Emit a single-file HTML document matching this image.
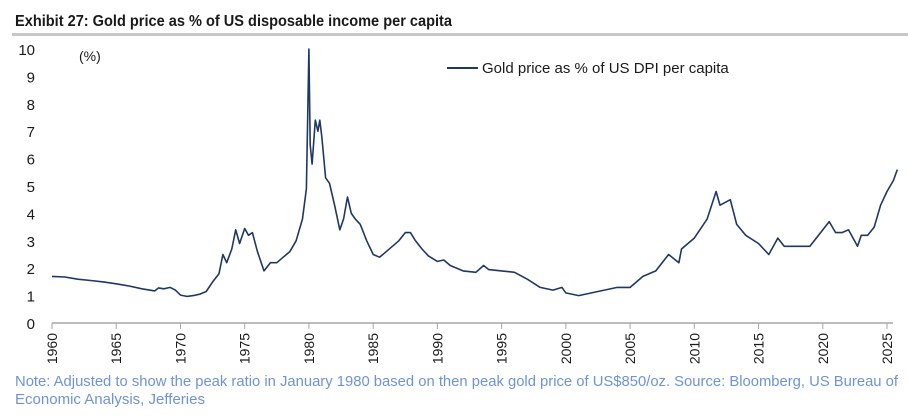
<!DOCTYPE html>
<html><head><meta charset="utf-8"><style>
body{margin:0;background:#fff;width:908px;height:412px;overflow:hidden;font-family:"Liberation Sans",sans-serif}
svg text{font-family:"Liberation Sans",sans-serif}
</style></head><body>
<svg id="chart" width="908" height="412" xmlns="http://www.w3.org/2000/svg">
<text x="15" y="26" font-size="16" font-weight="bold" fill="#1a1a1a" textLength="437" lengthAdjust="spacingAndGlyphs">Exhibit 27: Gold price as % of US disposable income per capita</text>
<rect x="12" y="33" width="896" height="3" fill="#c8c8c8"/>
<text x="79" y="61" font-size="14" fill="#1a1a1a">(%)</text>
<line x1="447" y1="68" x2="478" y2="68" stroke="#1f3864" stroke-width="2"/>
<text x="482" y="73" font-size="15" fill="#1a1a1a">Gold price as % of US DPI per capita</text>
<g id="yt"></g><g id="xt"></g>
<line x1="52" y1="323" x2="893" y2="323" stroke="#a6a6a6" stroke-width="1.5"/>
<path id="series" fill="none" stroke="#1f3864" stroke-width="1.6" stroke-linejoin="round"/>
<text font-size="15" fill="#6f93d6" style="font-family:'Liberation Sans Narrow','Liberation Sans',sans-serif"><tspan x="15" y="386" textLength="883" lengthAdjust="spacingAndGlyphs">Note: Adjusted to show the peak ratio in January 1980 based on then peak gold price of US$850/oz. Source: Bloomberg, US Bureau of</tspan><tspan x="15" y="404" textLength="190" lengthAdjust="spacingAndGlyphs">Economic Analysis, Jefferies</tspan></text>
</svg>
<script>
const years=[1960,1961,1962,1963,1964,1965,1966,1967,1968,1968.3,1968.7,1969.2,1969.6,1970,1970.5,1971,1971.5,1972,1972.5,1973,1973.3,1973.6,1974,1974.3,1974.6,1975,1975.3,1975.6,1976,1976.5,1977,1977.5,1978,1978.5,1979,1979.5,1979.8,1980,1980.1,1980.25,1980.5,1980.7,1980.85,1981,1981.3,1981.6,1982,1982.4,1982.7,1983,1983.3,1983.6,1984,1984.5,1985,1985.5,1986,1986.5,1987,1987.5,1987.9,1988.3,1988.8,1989.3,1990,1990.5,1991,1992,1993,1993.6,1994,1995,1996,1997,1998,1999,1999.7,2000,2001,2002,2003,2004,2005,2006,2007,2008,2008.8,2009,2010,2011,2011.7,2012,2012.8,2013.3,2014,2015,2015.8,2016.5,2017,2018,2019,2019.5,2020.5,2021,2021.5,2022,2022.7,2023,2023.5,2024,2024.5,2025,2025.5,2025.8];
const values=[1.7,1.68,1.6,1.55,1.5,1.43,1.35,1.25,1.17,1.28,1.25,1.3,1.2,1.02,0.97,1.0,1.05,1.15,1.5,1.8,2.5,2.2,2.7,3.4,2.9,3.45,3.2,3.3,2.6,1.9,2.2,2.2,2.4,2.6,3.0,3.8,4.9,10.0,6.5,5.8,7.4,7.0,7.4,6.8,5.3,5.1,4.3,3.4,3.8,4.6,4.0,3.8,3.6,3.0,2.5,2.4,2.6,2.8,3.0,3.3,3.3,3.0,2.7,2.45,2.25,2.3,2.1,1.9,1.85,2.1,1.95,1.9,1.85,1.6,1.3,1.2,1.3,1.1,1.0,1.1,1.2,1.3,1.3,1.7,1.9,2.5,2.2,2.7,3.1,3.8,4.8,4.3,4.5,3.6,3.2,2.9,2.5,3.1,2.8,2.8,2.8,3.1,3.7,3.3,3.3,3.4,2.8,3.2,3.2,3.5,4.3,4.8,5.2,5.6];
const yTicks=[0,1,2,3,4,5,6,7,8,9,10];
const xTicks=[1960,1965,1970,1975,1980,1985,1990,1995,2000,2005,2010,2015,2020,2025];
const NS="http://www.w3.org/2000/svg";
const X=y=>52+(y-1960)*(835/65);
const Y=v=>323-v*27.4;
let d="";
years.forEach((yr,i)=>{d+=(i?"L":"M")+X(yr).toFixed(1)+","+Y(values[i]).toFixed(1);});
document.getElementById("series").setAttribute("d",d);
const yt=document.getElementById("yt");
yTicks.forEach(v=>{const t=document.createElementNS(NS,"text");


t.setAttribute("x",35);t.setAttribute("y",Y(v)+6);t.setAttribute("text-anchor","end");t.setAttribute("font-size","15");t.setAttribute("fill","#1a1a1a");t.textContent=v;yt.appendChild(t);});
const xt=document.getElementById("xt");
xTicks.forEach(yr=>{const x=X(yr);
const l=document.createElementNS(NS,"line");


l.setAttribute("x1",x);l.setAttribute("x2",x);l.setAttribute("y1",323);l.setAttribute("y2",329);l.setAttribute("stroke","#a6a6a6");xt.appendChild(l);
const t=document.createElementNS(NS,"text");


t.setAttribute("transform","translate("+(x+5)+",333) rotate(-90)");t.setAttribute("text-anchor","end");t.setAttribute("font-size","14");t.setAttribute("fill","#1a1a1a");t.textContent=yr;xt.appendChild(t);});
</script>
</body></html>
